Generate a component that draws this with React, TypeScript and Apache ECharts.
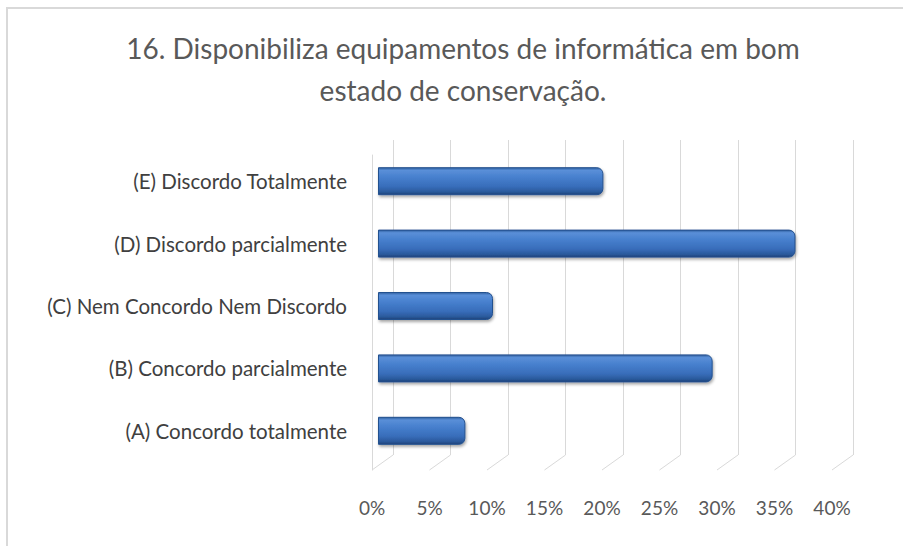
import React, { useEffect, useRef } from "react";
import * as echarts from "echarts";

const titleLines = ["16. Disponibiliza equipamentos de informática em bom", "estado de conservação."];
const categories = [
  "(A) Concordo totalmente",
  "(B) Concordo parcialmente",
  "(C) Nem Concordo Nem Discordo",
  "(D) Discordo parcialmente",
  "(E) Discordo Totalmente",
];
const values = [7.6, 29.1, 10.0, 36.3, 19.6];
const xTicks = [0, 5, 10, 15, 20, 25, 30, 35, 40];

const FONT = "Lato, 'Open Sans', sans-serif";
const GRID_LINE = "#d9d9d9";

export default function App() {
  const ref = useRef<HTMLDivElement>(null);
  useEffect(() => {
    if (!ref.current) return;
    const chart = echarts.init(ref.current, undefined, { renderer: "svg" });
    const depthX = 21;
    const depthY = 15;
    chart.setOption({
      animation: false,
      backgroundColor: "#ffffff",
      title: {
        text: titleLines.join("\n"),
        left: 458,
        top: 22,
        textAlign: "center",
        textStyle: {
          fontFamily: FONT,
          fontSize: 28,
          fontWeight: "normal",
          color: "#595959",
          lineHeight: 42,
        },
      },
      graphic: [
        {
          type: "rect",
          shape: { x: 7, y: 8, width: 1000, height: 1000 },
          style: { fill: "none", stroke: GRID_LINE, lineWidth: 2 },
          silent: true,
        },
      ],
      grid: [
        { left: 393, top: 140, width: 460, height: 315 },
        { left: 378, top: 150, width: 460, height: 312 },
        { left: 372, top: 155, width: 460, height: 315 },
      ],
      xAxis: [
        {
          gridIndex: 0,
          type: "value",
          min: 0,
          max: 40,
          interval: 5,
          axisLine: { show: false },
          axisTick: { show: false },
          axisLabel: { show: false },
          splitLine: { show: true, lineStyle: { color: GRID_LINE, width: 1 } },
        },
        {
          gridIndex: 1,
          type: "value",
          min: 0,
          max: 40,
          interval: 5,
          show: false,
          splitLine: { show: false },
        },
        {
          gridIndex: 2,
          type: "value",
          min: 0,
          max: 40,
          interval: 5,
          axisLine: { show: false },
          axisTick: { show: false },
          splitLine: { show: false },
          axisLabel: {
            margin: 28,
            fontFamily: FONT,
            fontSize: 19,
            color: "#595959",
            formatter: "{value}%",
          },
        },
      ],
      yAxis: [
        {
          gridIndex: 0,
          type: "category",
          data: categories,
          show: false,
        },
        {
          gridIndex: 1,
          type: "category",
          data: categories,
          axisLine: { show: false },
          axisTick: { show: false },
          splitLine: { show: false },
          axisLabel: {
            margin: 31,
            fontFamily: FONT,
            fontSize: 20.5,
            color: "#404040",
          },
        },
        {
          gridIndex: 2,
          type: "value",
          min: 0,
          max: 1,
          axisLine: { show: true, lineStyle: { color: GRID_LINE, width: 1 } },
          axisTick: { show: false },
          axisLabel: { show: false },
          splitLine: { show: false },
        },
      ],
      series: [
        {
          type: "custom",
          xAxisIndex: 2,
          yAxisIndex: 2,
          silent: true,
          data: xTicks.map((t) => [t, 0]),
          renderItem: (params: any, api: any) => {
            const p = api.coord([api.value(0), 0]);
            return {
              type: "line",
              shape: { x1: p[0], y1: p[1], x2: p[0] + depthX, y2: p[1] - depthY },
              style: { stroke: GRID_LINE, lineWidth: 1 },
            };
          },
        },
        {
          type: "bar",
          xAxisIndex: 1,
          yAxisIndex: 1,
          data: values,
          barWidth: 28,
          itemStyle: {
            borderRadius: [0, 6, 6, 0],
            borderColor: "#24518f",
            borderWidth: 1,
            shadowColor: "rgba(0,0,0,0.35)",
            shadowBlur: 3,
            shadowOffsetX: 1,
            shadowOffsetY: 2,
            color: new echarts.graphic.LinearGradient(0, 0, 0, 1, [
              { offset: 0, color: "#2f5f9f" },
              { offset: 0.1, color: "#5a8fd8" },
              { offset: 0.35, color: "#4780ce" },
              { offset: 0.7, color: "#386dba" },
              { offset: 0.9, color: "#2a599b" },
              { offset: 1, color: "#1c4277" },
            ]),
          },
        },
      ],
    });
    return () => chart.dispose();
  }, []);
  return (
    <div
      ref={ref}
      style={{ position: "fixed", left: 0, top: 0, width: 903, height: 546 }}
    />
  );
}
